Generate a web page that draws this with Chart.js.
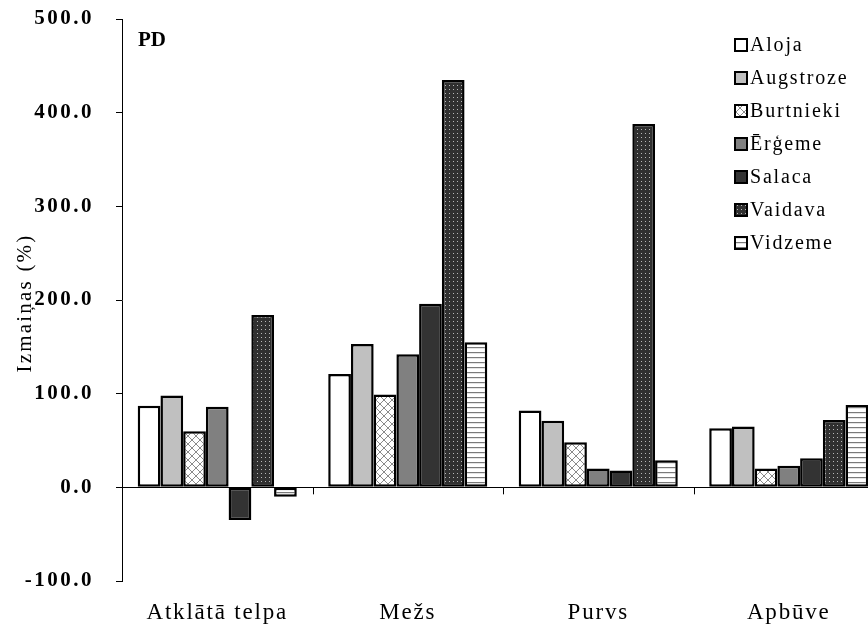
<!DOCTYPE html>
<html>
<head>
<meta charset="utf-8">
<script src="https://cdn.jsdelivr.net/npm/chart.js@4"></script>
<style>
    html, body { margin: 0; padding: 0; overflow: hidden; background: #fff; }
    body { width: 868px; height: 624px; }
    canvas { display: block; }
</style>
</head>
<body>
<canvas id="pdChart" width="884" height="624"></canvas>
<script>
/* ======================
   DATA
====================== */
const categories = ["Atklātā telpa", "Mežs", "Purvs", "Apbūve"];
const seriesNames = ["Aloja", "Augstroze", "Burtnieki", "Ērģeme", "Salaca", "Vaidava", "Vidzeme"];

const aloja     = [87, 121, 82, 63];
const augstroze = [98, 153, 71, 65];
const burtnieki = [60, 99, 48, 20];
const ergeme    = [86, 142, 20, 23];
const salaca    = [-35, 196, 18, 31];
const vaidava   = [184, 435, 388, 72];
const vidzeme   = [-10, 155, 29, 88];

const yMin = -100;
const yMax = 500;
const yStep = 100;

/* ======================
   FILL PATTERNS
====================== */
function makePattern(size, draw) {
    const c = document.createElement("canvas");
    c.width = size;
    c.height = size;
    const g = c.getContext("2d");
    draw(g, size);
    return g.createPattern(c, "repeat");
}

const ctx0 = document.getElementById("pdChart").getContext("2d");

const crossHatch = makePattern(8, (g, s) => {
    g.fillStyle = "#fff";
    g.fillRect(0, 0, s, s);
    g.strokeStyle = "#8a8a8a";
    g.lineWidth = 1;
    g.beginPath();
    g.moveTo(0, 0); g.lineTo(s, s);
    g.moveTo(s, 0); g.lineTo(0, s);
    g.stroke();
});

const dotted = makePattern(4, (g, s) => {
    g.fillStyle = "#303030";
    g.fillRect(0, 0, s, s);
    g.fillStyle = "#b8b8b8";
    g.fillRect(1, 1, 1, 1);
});

const hLines = makePattern(5, (g, s) => {
    g.fillStyle = "#fff";
    g.fillRect(0, 0, s, s);
    g.fillStyle = "#7a7a7a";
    g.fillRect(0, 2, s, 1.2);
});

const fills = ["#ffffff", "#c0c0c0", crossHatch, "#808080", "#333333", dotted, hLines];
const values = [aloja, augstroze, burtnieki, ergeme, salaca, vaidava, vidzeme];

/* ======================
   EXTRA DRAWING (title, legend, ticks)
====================== */
const SERIF = "'Liberation Serif', 'Times New Roman', serif";
const tickSpacing = { x: "1.8px", y: "2.5px" };

const extras = {
    id: "extras",
    afterUpdate(chart) {
        // wider letter spacing for axis labels, like the original
        Object.keys(tickSpacing).forEach(id => {
            const sc = chart.scales[id];
            if (!sc || sc._spaced) return;
            const orig = sc.drawLabels;
            sc.drawLabels = function (area) {
                this.ctx.save();
                this.ctx.letterSpacing = tickSpacing[id];
                orig.call(this, area);
                this.ctx.restore();
            };
            sc._spaced = true;
        });
    },
    afterDraw(chart) {
        const ctx = chart.ctx;
        const x = chart.scales.x;
        const y = chart.scales.y;
        const zeroY = y.getPixelForValue(0);
        const catW = x.width / categories.length;

        ctx.save();
        // category boundary ticks on the zero line
        ctx.strokeStyle = "#000";
        ctx.lineWidth = 1;
        for (let i = 1; i < categories.length; i++) {
            const px = Math.round(x.left + catW * i) + 0.5;
            ctx.beginPath();
            ctx.moveTo(px, zeroY);
            ctx.lineTo(px, zeroY + 7);
            ctx.stroke();
        }

        // PD label
        ctx.fillStyle = "#000";
        ctx.font = "bold 21px " + SERIF;
        ctx.textBaseline = "middle";
        ctx.textAlign = "left";
        ctx.fillText("PD", 138, 41);

        // y axis title
        ctx.save();
        ctx.translate(25, 303);
        ctx.rotate(-Math.PI / 2);
        ctx.textAlign = "center";
        ctx.font = "21px " + SERIF;
        ctx.letterSpacing = "2.2px";
        ctx.fillText("Izmaiņas (%)", 0, 0);
        ctx.restore();

        // legend
        ctx.font = "20px " + SERIF;
        ctx.letterSpacing = "1.8px";
        chart.data.datasets.forEach((ds, i) => {
            const cy = 45 + i * 33;
            ctx.fillStyle = ds.backgroundColor;
            ctx.fillRect(735, cy - 6, 12, 12);
            ctx.strokeStyle = "#000";
            ctx.lineWidth = 2;
            ctx.strokeRect(735, cy - 6, 12, 12);
            ctx.fillStyle = "#000";
            ctx.fillText(ds.label, 750, cy + 1);
        });
        ctx.restore();
    }
};

/* ======================
   CHART
====================== */
new Chart(ctx0, {
    type: "bar",
    data: {
        labels: categories,
        datasets: seriesNames.map((name, i) => ({
            label: name,
            data: values[i],
            backgroundColor: fills[i],
            borderColor: "#000",
            borderWidth: 2.5,
            borderSkipped: false,
            barPercentage: 1,
            categoryPercentage: 0.835
        }))
    },
    options: {
        responsive: false,
        animation: false,
        devicePixelRatio: 1,
        layout: { padding: { top: 19, right: 0, bottom: 0, left: 0 } },
        plugins: {
            legend: { display: false },
            tooltip: { enabled: false }
        },
        scales: {
            x: {
                offset: true,
                border: { display: false },
                grid: { display: false },
                ticks: {
                    color: "#000",
                    padding: 10,
                    maxRotation: 0,
                    font: { family: SERIF, size: 23 }
                },
                afterFit(scale) { scale.height = 43; }
            },
            y: {
                min: yMin,
                max: yMax,
                border: { display: true, color: "#000", width: 1 },
                grid: {
                    drawOnChartArea: true,
                    tickLength: 6,
                    tickColor: "#000",
                    color: c => (c.tick && c.tick.value === 0) ? "#000" : "rgba(0,0,0,0)"
                },
                ticks: {
                    stepSize: yStep,
                    color: "#000",
                    padding: 22,
                    font: { family: SERIF, size: 21, weight: "bold" },
                    callback: v => v.toFixed(1)
                },
                afterFit(scale) {
                    scale.width = 122;
                    scale.paddingTop = 0;
                    scale.paddingBottom = 0;
                }
            }
        }
    },
    plugins: [extras]
});
</script>
</body>
</html>
